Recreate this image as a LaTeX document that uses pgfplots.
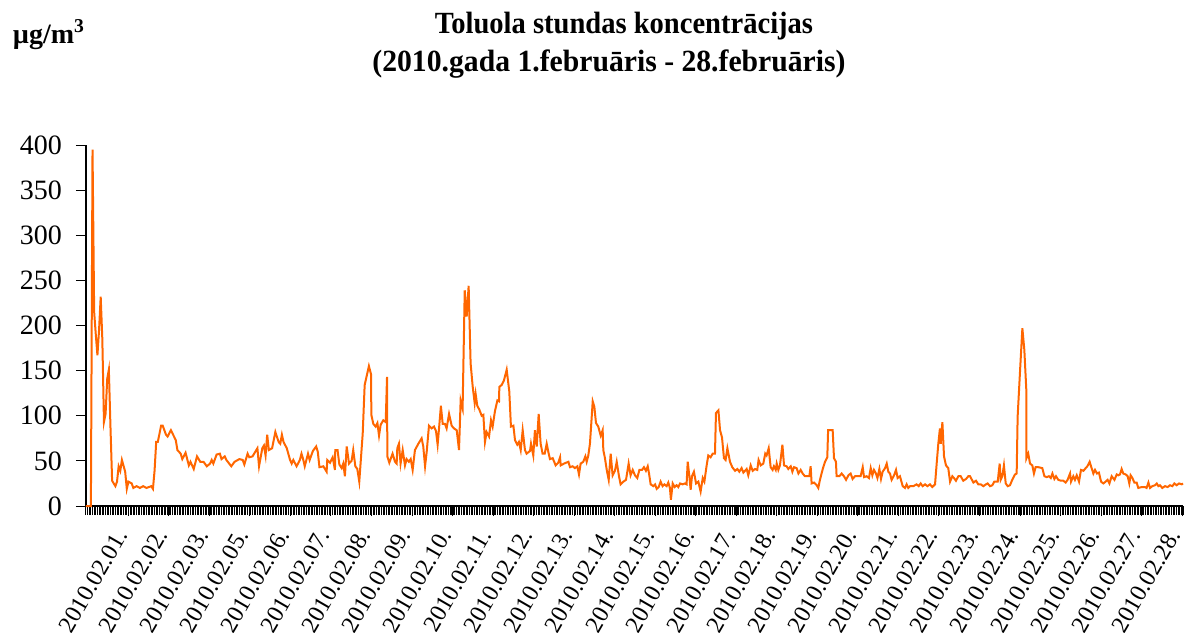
\documentclass[border=0pt]{standalone}
\usepackage{fontspec}
\setmainfont{Liberation Serif}
\usepackage{graphicx}
\usepackage{pgfplots}
\pgfplotsset{compat=1.18}
\definecolor{tol}{RGB}{255,102,0}

\begin{document}
\begin{tikzpicture}
\begin{axis}[
  at={(0pt,0pt)}, anchor=south west,
  scale only axis, width=548.5pt, height=180.5pt,
  xmin=0, xmax=672, ymin=0, ymax=400,
  axis lines=left,
  axis line style={-, black, line width=0.6pt},
  ytick={0,50,...,400},
  xtick={25.9,50.7,75.6,100.4,125.2,150.05,174.9,199.7,224.5,249.4,274.2,299.0,323.9,348.7,373.5,398.3,423.2,448.0,472.8,497.7,522.5,547.3,572.2,597.0,621.8,646.7,671.5},
  xticklabels={2010.02.01.,2010.02.02.,2010.02.03.,2010.02.05.,2010.02.06.,2010.02.07.,2010.02.08.,2010.02.09.,2010.02.10.,2010.02.11.,2010.02.12.,2010.02.13.,2010.02.14.,2010.02.15.,2010.02.16.,2010.02.17.,2010.02.18.,2010.02.19.,2010.02.20.,2010.02.21.,2010.02.22.,2010.02.23.,2010.02.24.,2010.02.25.,2010.02.26.,2010.02.27.,2010.02.28.},
  minor xtick={0,1,...,672},
  tick align=outside,
  major tick length=5pt, minor tick length=4.5pt,
  tick style={black, line width=0.5pt},
  yticklabel style={font=\fontsize{14}{16}\selectfont, xshift=-3.5pt},
  /pgf/number format/assume math mode=true,
  xticklabel style={font=\fontsize{12}{14}\selectfont, yshift=-9.5pt, rotate=60, anchor=base east, inner sep=0pt},
  clip=false,
]
\addplot[tol, line width=1pt] coordinates {
(0,0) (1,0) (2,0) (3,0) (4,395) (5,215) (6,190) (7,167) (8,195) (9,232) (10,185) (11,93) (12,102) (13,141) (14,151) (15,87) (16,28) (17,25) (18,22) (19,27) (20,44) (21,39) (22,51) (24,38) (25,19) (26,27) (28,25) (29,20) (31,22) (33,20) (35,22) (37,20) (40,22) (41,19) (42,39) (43,71) (44,71) (46,89) (47,89) (49,79) (50,77) (52,84) (55,73) (56,62) (58,58) (59,52) (61,59) (63,45) (64,49) (66,41) (68,55) (70,49) (72,49) (74,44) (76,47) (77,51) (78,47) (80,57) (82,58) (83,52) (85,55) (86,51) (89,44) (91,49) (94,52) (96,51) (97,46) (99,58) (100,54) (102,55) (105,64) (106,44) (108,64) (109,67) (110,56) (111,79) (112,62) (114,64) (116,82) (118,71) (119,69) (120,79) (121,71) (123,64) (125,51) (126,47) (127,51) (129,44) (131,51) (132,58) (133,52) (134,44) (136,58) (137,51) (139,61) (141,66) (142,60) (143,43)
(145.4,44) (147.4,38) (147.8,51) (149.5,48) (151.1,54) (152.5,40) (152.7,62) (154.1,62) (155.2,46) (156.6,42) (157.6,47) (158.6,33) (159.7,66) (161.1,47) (162.7,50) (163.7,62) (165,44) (166.2,41) (167.4,27) (169.5,80) (170.7,134) (173.3,155) (174.6,146) (174.8,101) (176,91) (177.4,88) (178.5,92) (179.5,78) (180.5,90) (182.1,95) (183.6,93) (184.4,143) (184.6,55) (185.8,48) (187.8,58) (189.3,49) (190.3,47) (190.7,64) (191.7,69) (192.7,47) (194,62) (195.4,45) (196.4,52) (197.8,49) (198.9,52) (200.1,40) (201.5,62) (203.6,69) (205.6,75) (206.6,66) (207.7,44) (208.7,60) (210.1,89) (211.7,86) (213.2,88) (214.4,83) (215.4,68) (216.4,89) (217.4,111) (218.5,91) (219.9,91) (220.9,86) (222.4,102) (224,89) (225.4,86) (227.1,84) (228.5,62) (229.5,117) (230.7,108) (232,239) (233.2,210) (234.4,244) (235.6,158) (236.9,132) (238.1,114) (238.7,124) (239.7,111) (240.9,107) (242.4,100) (243.4,101) (244.4,71) (245.4,82) (246.9,77) (248.1,95) (249.1,88) (250.5,105) (252,117) (253,116) (253.2,132) (254.6,134) (256,139) (257.7,151) (259.3,127) (260.3,88) (261.8,89) (262.8,73) (264.2,68) (265.2,71) (266.3,62) (267.5,84) (268.9,62) (269.9,58) (272,61) (272.6,69) (274,56) (275,84) (276.1,66) (277.3,102) (278.5,69) (279.7,58)
(281,58) (282.2,69) (283.2,60) (284.2,52) (285.9,53) (287.7,45) (289.3,48) (290.4,54) (290.8,45) (292.8,47) (295.5,49) (296.5,43) (298.1,44) (299.5,42) (301,44) (302,35) (303,47) (304.6,49) (305.9,55) (306.7,49) (307.7,56) (308.7,69) (309.8,99) (310.4,116) (311.4,110) (312.4,92) (313.8,88) (315.3,78) (316.5,84) (316.9,62) (317.9,53) (319,40) (320.2,29) (321.4,58) (322.6,34) (324,39) (325.1,49) (326.5,33) (327.5,24) (329.2,27) (330.8,29) (332.4,47) (333.6,34) (334.9,40) (336.3,34) (337.7,31) (339,40) (340.6,40) (341.8,43) (343,39) (344.1,44) (344.9,36) (345.9,24) (347.5,22) (348.6,24) (349.6,19) (350.8,21) (352,27) (353.2,22) (354.3,24) (355.7,22) (356.7,26) (357.7,20) (358.3,7) (359.4,25) (360.6,21) (361.8,23) (362.8,21) (363.9,25) (365.5,24) (366.9,25) (367.9,24) (368.6,49) (369.6,33) (370.4,18) (371.2,33) (372.4,38) (373.7,25) (375.1,27) (376.5,16) (377.8,31) (378.8,27) (380.2,45) (381.2,56) (382.6,54) (383.9,58) (385.3,58) (385.9,103) (387.4,106) (388.4,84) (389.6,76) (390.8,53) (391.8,51) (392.9,64) (394.5,49) (395.9,43) (397.6,39) (399,41) (400.2,38) (401.6,42) (402.7,37) (403.7,39) (404.7,41) (405.7,34) (407.2,45) (408.4,39) (409.8,41) (411.2,40) (412,51) (413.3,45) (414.9,47) (416.1,58) (416.9,56) (418.2,64) (419.4,43) (420.6,40)
(421.4,44) (422.5,40) (423.1,47) (424.1,40) (425.1,45) (426.6,68) (427.6,45) (429.2,44) (430.2,41) (431.7,44) (432.7,38) (433.7,43) (435.3,42) (436.4,36) (437.8,40) (439,36) (440.4,33) (443.1,33) (443.9,44) (444.5,25) (446,26) (447.6,23) (448.6,20) (449.6,29) (451.3,41) (452.7,49) (454.1,54) (454.6,84) (457.4,84) (458.2,53) (459.4,49) (459.8,33) (461.5,33) (462.9,36) (464.3,33) (465.6,29) (467,34) (468.4,36) (469.6,30) (471.1,33) (474.5,33) (475.8,43) (476.6,32) (478.2,33) (479.6,31) (480.7,42) (481.7,34) (482.7,40) (483.9,36) (484.8,31) (486,41) (487,30) (488,38) (489.5,42) (490.5,47) (491.5,38) (492.5,36) (493.5,29) (495,34) (496.2,40) (497.2,31) (498.6,33) (500.3,22) (501.7,20) (502.7,24) (503.7,20) (504.8,22) (506.8,22) (508.8,24) (510.1,22) (511.3,25) (512.5,22) (514,24) (515.4,22) (517,24) (518.4,21) (520.1,24) (521.1,47) (522.1,69) (523.1,86) (523.6,69) (524.6,93) (525.6,55) (526.8,45) (528.2,42) (529.3,27) (530.7,33) (531.7,31) (532.9,28) (534.4,33) (535.8,33) (537.4,28) (539.1,30) (540.5,33) (541.5,33) (543.6,26) (545.2,28) (546.6,24) (548.1,24) (549.7,22) (551.3,24)
(552.3,25) (553.8,22) (555.2,23) (556.4,27) (558.5,27) (559.7,47) (560.3,29) (561.3,33) (562.3,45) (563.4,25) (564.6,22) (566,23) (567.4,29) (569.1,35) (570.1,36) (570.7,99) (572.3,154) (573.6,197) (574.8,173) (576,129) (576.1,53) (577.2,58) (578.3,47) (579.7,45) (580.7,36) (581.7,43) (583.4,43) (585.8,42) (587.1,33) (588.5,32) (589.9,33) (591,31) (592,36) (593.2,30) (594.2,33) (595.6,29) (597.3,28) (598.7,28) (600.1,26) (601.3,29) (602.8,36) (603.4,27) (604.8,33) (605.8,29) (606.9,34) (608.3,27) (609.5,40) (611,39) (612.4,42) (613.4,44) (614.8,49) (616,42) (617.1,36) (618.1,40) (619.3,36) (620.5,37) (621.8,27) (623.2,25) (624.6,27) (625.8,29) (626.9,25) (628.3,33) (630,29) (631.4,35) (632.4,34) (633.4,35) (634.4,41) (635.4,36) (636.9,35) (638.1,33) (639.1,25) (639.9,34) (641,31) (642.2,26) (643.6,26) (644.6,20) (646.7,21) (648.7,21) (649.7,20) (650.8,26) (651.8,20) (653.2,22) (654.8,23) (655.9,25) (656.9,22) (657.9,23) (659.3,20) (661,22) (662.6,21) (664,23) (665.5,22) (666.7,25) (668.1,23) (669.6,25) (671.2,24) (672,25)
};
\end{axis}
\node[anchor=base, font=\bfseries\fontsize{14}{17}\selectfont] at (269pt,236.4pt) {\scalebox{1.02}[1.1]{Toluola stundas koncentrācijas}};
\node[anchor=base, font=\bfseries\fontsize{14}{17}\selectfont] at (261.5pt,217.2pt) {\scalebox{1.06}[1.1]{(2010.gada 1.februāris - 28.februāris)}};
\node[anchor=base west, inner sep=0pt, font=\bfseries\fontsize{14}{17}\selectfont] at (-36.7pt,231.4pt) {µg/m\textsuperscript{3}};
\pgfresetboundingbox
\path[use as bounding box] (-43pt,-66.5pt) rectangle (549pt,253pt);
\end{tikzpicture}
\end{document}
